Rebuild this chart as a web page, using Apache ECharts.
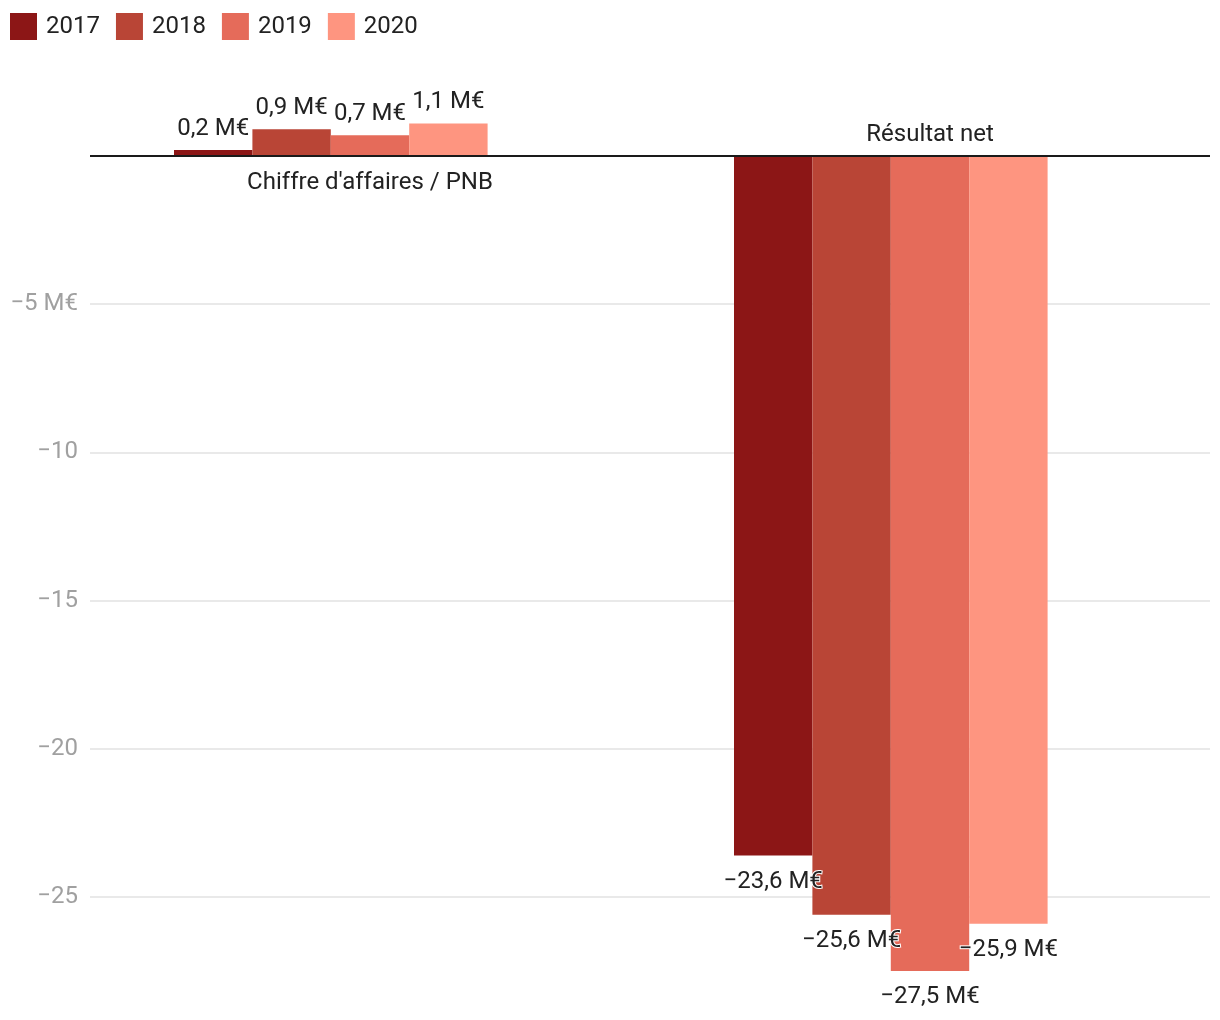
<!DOCTYPE html>
<html><head><meta charset="utf-8">
<script src="https://cdn.jsdelivr.net/npm/echarts@6/dist/echarts.min.js"></script>
<style>html,body{margin:0;padding:0;background:#fff}#c{width:1220px;height:1020px}</style>
</head><body><div id="c"></div>
<script>
const categories = ["Chiffre d'affaires / PNB", "Résultat net"];
const seriesNames = ["2017", "2018", "2019", "2020"];
const v2017 = [0.2, -23.6];
const v2018 = [0.9, -25.6];
const v2019 = [0.7, -27.5];
const v2020 = [1.1, -25.9];
const colors = ["#8c1616", "#b94536", "#e56b5a", "#fe9580"];
const yTicks = [-5, -10, -15, -20, -25];

const values = [v2017, v2018, v2019, v2020];
const font = "Roboto";
const FS = 24;
function fmt(v){
  const s = Math.abs(v).toFixed(1).replace('.', ',');
  return (v < 0 ? '\u2212' : '') + s + ' M\u20ac';
}
const series = values.map((arr, i) => ({
  name: seriesNames[i], type: 'bar',
  barGap: 0, barCategoryGap: '30%',
  itemStyle: {color: colors[i]},
  data: arr.map(v => ({value: v, label: {position: v < 0 ? 'bottom' : 'top', distance: v < 0 ? 14 : 9}})),
  label: {show: true, formatter: p => fmt(p.value), color: '#222', fontSize: FS,
    fontFamily: font, textBorderColor: '#fff', textBorderWidth: 2}
}));
series[0].markLine = {
  silent: true, symbol: 'none', label: {show: false},
  lineStyle: {color: '#1a1a1a', type: 'solid', width: 2},
  data: [{yAxis: 0}]
};
series.push({name: 'pad', type: 'bar', barGap: 0, barCategoryGap: '30%', data: [null, null]});
// category labels placed at the zero line
series.push({
  name: 'cats', type: 'scatter', symbolSize: 0, silent: true,
  itemStyle: {opacity: 1},
  data: categories.map((c, i) => ({value: [c, 0],
    label: {position: values[0][i] < 0 ? 'top' : 'bottom', distance: i === 0 ? 15 : 9}})),
  label: {show: true, formatter: p => p.value[0], color: '#222', fontSize: FS, fontFamily: font}
});

const chart = echarts.init(document.getElementById('c'), null, {renderer: 'canvas'});
const PX = 29.64;
chart.setOption({
  animation: false,
  textStyle: {fontFamily: font},
  legend: {
    data: seriesNames, left: 5, top: 8, itemWidth: 27, itemHeight: 27, itemGap: 16,
    icon: 'rect', textStyle: {fontSize: FS, color: '#222', fontFamily: font, padding: [0, 0, 0, 4]}
  },
  grid: {left: 90, right: 10, top: 156 - 1.1 * PX, bottom: 1020 - (156 + 28 * PX)},
  xAxis: {type: 'category', data: categories,
     axisLine: {show: false}, axisTick: {show: false}, axisLabel: {show: false}},
  yAxis: {
    type: 'value', min: -28, max: 1.1, splitNumber: 5,
    axisLine: {show: false}, axisTick: {show: false},
    splitLine: {show: true, showMaxLine: false, showMinLine: false, lineStyle: {color: '#e2e2e2', width: 1.5}},
    axisLabel: {margin: 12, fontSize: FS, color: '#a0a0a0', fontFamily: font,
      formatter: v => yTicks.indexOf(v) < 0 ? '' : (v === -5 ? '\u22125 M\u20ac' : '\u2212' + Math.abs(v))}
  },
  series: series
});
</script></body></html>
